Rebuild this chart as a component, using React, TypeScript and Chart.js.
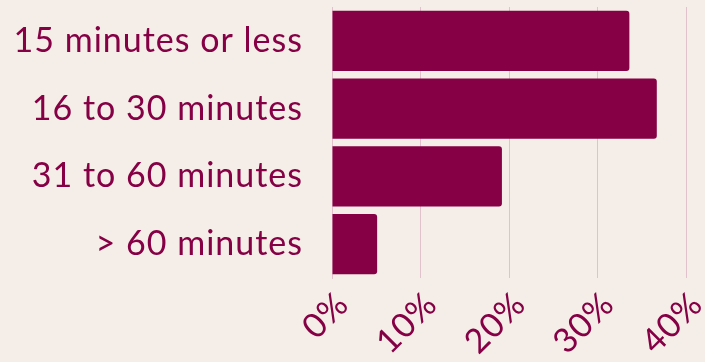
import React, { useEffect, useRef } from "react";
import { Chart, registerables } from "chart.js";

Chart.register(...registerables);

const categories = ["15 minutes or less", "16 to 30 minutes", "31 to 60 minutes", "> 60 minutes"];
const shares = [33.6, 36.7, 19.2, 5.1];
const xTicks = [0, 10, 20, 30, 40];

const BG = "#f5ede8";
const MAROON = "#850045";
const GRID = "#e0c2cc";

const spacingPlugin = {
  id: "spacing",
  beforeUpdate(chart: any) {
    chart.ctx.letterSpacing = "1px";
  },
  beforeDraw(chart: any) {
    chart.ctx.letterSpacing = "1px";
  },
};

export default function App() {
  const ref = useRef<HTMLCanvasElement | null>(null);
  useEffect(() => {
    document.body.style.margin = "0";
    document.body.style.background = BG;
    const ctx = ref.current!.getContext("2d")!;
    (ctx as any).letterSpacing = "1px";
    const chart = new Chart(ctx, {
      type: "bar",
      data: {
        labels: categories,
        datasets: [
          {
            data: shares,
            backgroundColor: MAROON,
            borderRadius: 3,
            borderSkipped: "start",
            categoryPercentage: 1,
            barPercentage: 0.89,
          },
        ],
      },
      plugins: [spacingPlugin],
      options: {
        indexAxis: "y",
        animation: false,
        responsive: false,
        maintainAspectRatio: false,
        layout: { padding: { top: 7, right: 19, left: 15, bottom: 0 } },
        plugins: { legend: { display: false }, tooltip: { enabled: false } },
        scales: {
          x: {
            min: 0,
            max: 40,
            afterBuildTicks: (axis: any) => {
              axis.ticks = xTicks.map((v) => ({ value: v }));
            },
            afterFit: (axis: any) => {
              axis.paddingLeft = 0;
              axis.paddingRight = 0;
              axis.paddingTop = 0;
              axis.paddingBottom = 0;
              axis.height = 84;
            },
            ticks: {
              color: MAROON,
              font: { family: "Lato", size: 34, weight: "normal" as any },
              maxRotation: 45,
              minRotation: 45,
              padding: 6,
              labelOffset: 11,
              callback: (v: any) => v + "%",
            },
            grid: { color: GRID, drawTicks: false, lineWidth: 1 },
            border: { display: false },
          },
          y: {
            afterFit: (axis: any) => {
              axis.paddingLeft = 0;
              axis.paddingRight = 0;
              axis.paddingTop = 0;
              axis.paddingBottom = 0;
              axis.width = 317;
            },
            ticks: {
              color: MAROON,
              font: { family: "Lato", size: 34, weight: "normal" as any },
              padding: 29,
            },
            grid: { display: false, drawTicks: false },
            border: { display: true, color: GRID, width: 1 },
          },
        },
      },
    });
    return () => chart.destroy();
  }, []);
  return (
    <div style={{ position: "fixed", left: 0, top: 0, width: 705, height: 362, background: BG }}>
      <canvas ref={ref} width={705} height={362} style={{ width: 705, height: 362 }} />
    </div>
  );
}
